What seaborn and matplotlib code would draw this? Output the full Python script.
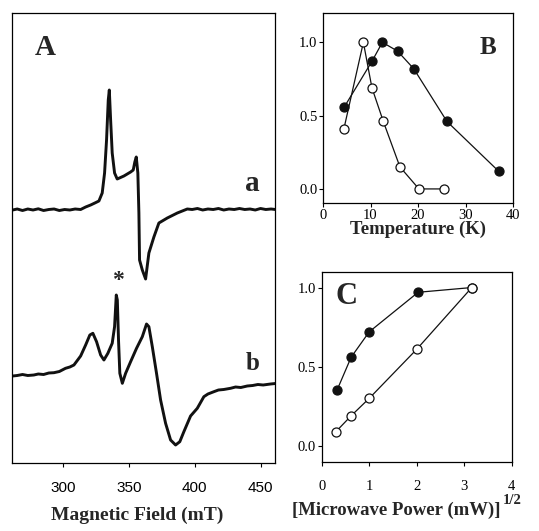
import matplotlib
matplotlib.use("Agg")
import matplotlib.pyplot as plt
import seaborn as sns
import pandas as pd

# ---------------- data ----------------
field_a = [261.5, 265, 269, 273, 277, 281, 285, 289, 293, 297, 301, 305, 309,
           313.2, 317, 320.8, 324, 327.1, 329.6, 331.4, 332.9, 334.2, 335.0, 336.0,
           337.2, 339.0, 341.0, 346.1, 351.2, 353.2, 354.4, 355.5, 356.7, 357.5,
           358.0, 360.1, 362.6, 365.1, 368.9, 372.7, 379.1, 386.7, 394.3, 398, 402,
           406, 410, 414, 418, 422, 426, 430, 434, 438, 442, 446, 450, 454, 458, 461.4]
signal_a = [0.0, 0.1, -0.05, 0.1, 0.0, 0.12, -0.05, 0.05, 0.1, -0.05, 0.05, 0.0, 0.1,
            0.05, 0.3, 0.5, 0.7, 0.9, 1.7, 3.7, 7.0, 11.0, 12.0, 9.0,
            5.7, 3.7, 3.1, 3.4, 3.8, 4.0, 4.8, 5.3, 3.7, -0.3,
            -5.0, -6.0, -6.9, -4.3, -2.7, -1.3, -0.8, -0.3, 0.1, 0.05, 0.15,
            0.0, 0.1, 0.05, 0.15, 0.0, 0.1, 0.05, 0.15, 0.05, 0.1, 0.0, 0.15, 0.05, 0.1, 0.05]

field_b = [261.5, 265, 269, 273, 277.6, 281, 285, 289, 292.9, 297,
           301.7, 305, 308.1, 313.2, 317.0, 320.2, 322.5, 325.3, 328.4, 330.9,
           333.9, 337.2, 339.0, 340.3, 341.1, 342.0, 343.0, 344.9, 347.4, 351.2,
           355.7, 360.1, 363.3, 365.1, 367.7, 370.9, 374.0, 377.8, 381.6, 385.4,
           388.6, 391.7, 396.8, 401.9, 406.9, 410, 414.5, 418, 422, 427.2,
           431, 435, 439.9, 444, 448, 452, 457.6, 461.4]
signal_b = [0.0, 0.05, 0.15, 0.05, 0.1, 0.2, 0.15, 0.3, 0.33, 0.45,
            0.77, 0.9, 1.1, 2.0, 3.1, 4.1, 4.27, 3.43, 2.1, 1.6,
            2.27, 3.27, 4.93, 8.1, 7.6, 3.6, 0.27, -0.73, 0.27, 1.43,
            2.77, 3.93, 5.2, 4.93, 2.93, 0.27, -2.4, -4.73, -6.4, -6.9,
            -6.57, -5.57, -4.0, -3.23, -2.07, -1.8, -1.57, -1.4, -1.35, -1.23,
            -1.1, -1.15, -1.0, -0.95, -0.85, -0.9, -0.8, -0.75]
offset_a = 25.3
offset_b = 8.7

temp_filled = [4.5, 10.3, 12.5, 15.7, 19.1, 26.1, 37.0]
rel_filled_T = [0.56, 0.87, 1.0, 0.94, 0.82, 0.46, 0.12]
temp_open = [4.4, 8.5, 10.3, 12.7, 16.2, 20.2, 25.5]
rel_open_T = [0.41, 1.0, 0.69, 0.46, 0.15, 0.0, 0.0]

power_filled = [0.32, 0.62, 1.0, 2.03, 3.16]
rel_filled_P = [0.35, 0.56, 0.72, 0.97, 1.0]
power_open = [0.30, 0.62, 1.0, 2.0, 3.16]
rel_open_P = [0.09, 0.19, 0.30, 0.61, 1.0]

field_ticks = [300, 350, 400, 450]
temp_ticks = [0, 10, 20, 30, 40]
power_ticks = [0, 1, 2, 3, 4]
rel_ticks = [0.0, 0.5, 1.0]

# ---------------- style ----------------
sns.set_theme(style="white")
plt.rcParams["font.family"] = ["Liberation Serif", "DejaVu Serif"]
plt.rcParams["axes.edgecolor"] = "black"
plt.rcParams["axes.linewidth"] = 0.9

W, H = 539, 531
fig = plt.figure(figsize=(W / 100, H / 100), dpi=100)


def box(l, t, r, b):
    return [l / W, 1 - b / H, (r - l) / W, (b - t) / H]


ink = "#111111"

# ---------------- panel A ----------------
axA = fig.add_axes(box(12, 13, 275, 463))
dfa = pd.DataFrame({"field": field_a, "y": [v + offset_a for v in signal_a]})
dfb = pd.DataFrame({"field": field_b, "y": [v + offset_b for v in signal_b]})
sns.lineplot(data=dfa, x="field", y="y", ax=axA, sort=False, estimator=None,
             color=ink, lw=2.1)
sns.lineplot(data=dfb, x="field", y="y", ax=axA, sort=False, estimator=None,
             color=ink, lw=2.1)
axA.set_xlim(261, 461)
axA.set_ylim(0, 45)
axA.set_xticks(field_ticks)
axA.set_xticklabels([str(t) for t in field_ticks], family="Liberation Sans", fontsize=11)
axA.set_yticks([])
axA.set_xlabel("")
axA.set_ylabel("")
axA.tick_params(axis="x", bottom=True, direction="out", length=3, width=0.8, pad=10,
                colors="black")
axA.text(0.125, 0.924, "A", transform=axA.transAxes, ha="center", va="center",
         fontsize=21, fontweight="bold")
axA.text(0.913, 0.622, "a", transform=axA.transAxes, ha="center", va="center",
         fontsize=21, fontweight="bold")
axA.text(0.913, 0.222, "b", transform=axA.transAxes, ha="center", va="center",
         fontsize=18, fontweight="bold")
axA.text(341.3, 18.2, "*", ha="center", va="center", fontsize=17, fontweight="bold")

# ---------------- panel B ----------------
axB = fig.add_axes(box(323, 13, 513, 203))
mk = dict(marker="o", markersize=6.5, markeredgewidth=0.9, markeredgecolor=ink)
sns.lineplot(x=temp_filled, y=rel_filled_T, ax=axB, sort=False, estimator=None,
             color=ink, lw=0.9, markerfacecolor=ink, **mk)
sns.lineplot(x=temp_open, y=rel_open_T, ax=axB, sort=False, estimator=None,
             color=ink, lw=0.9, markerfacecolor="white", **mk)
axB.set_xlim(0, 40)
axB.set_ylim(-0.096, 1.2)
axB.set_xticks(temp_ticks)
axB.set_yticks(rel_ticks)
axB.set_yticklabels([f"{t:.1f}" for t in rel_ticks])
axB.tick_params(axis="both", labelsize=10.5, colors="black")
axB.tick_params(axis="x", bottom=True, direction="out", length=3, width=0.8, pad=1)
axB.tick_params(axis="y", left=True, direction="out", length=3, width=0.8, pad=1)
axB.set_xlabel("")
axB.set_ylabel("")
axB.text(0.868, 0.816, "B", transform=axB.transAxes, ha="center", va="center",
         fontsize=18, fontweight="bold")

# ---------------- panel C ----------------
axC = fig.add_axes(box(321.7, 271.7, 511.7, 461.7))
sns.lineplot(x=power_filled, y=rel_filled_P, ax=axC, sort=False, estimator=None,
             color=ink, lw=0.9, markerfacecolor=ink, **mk)
sns.lineplot(x=power_open, y=rel_open_P, ax=axC, sort=False, estimator=None,
             color=ink, lw=0.9, markerfacecolor="white", **mk)
axC.set_xlim(0, 4)
axC.set_ylim(-0.1, 1.1)
axC.set_xticks(power_ticks)
axC.set_yticks(rel_ticks)
axC.set_yticklabels([f"{t:.1f}" for t in rel_ticks])
axC.tick_params(axis="both", labelsize=10.5, colors="black")
axC.tick_params(axis="x", bottom=True, direction="out", length=3, width=0.8, pad=10)
axC.tick_params(axis="y", left=True, direction="out", length=3, width=0.8, pad=1)
axC.set_xlabel("")
axC.set_ylabel("")
axC.text(0.133, 0.872, "C", transform=axC.transAxes, ha="center", va="center",
         fontsize=22, fontweight="bold")

for ax in (axA, axB, axC):
    for s in ax.spines.values():
        s.set_visible(True)
        s.set_color("black")
        s.set_linewidth(0.9)

# ---------------- axis titles ----------------
fig.text(137 / W, 1 - 515 / H, "Magnetic Field (mT)", ha="center", va="center",
         fontsize=14, fontweight="bold")
fig.text(418 / W, 1 - 229 / H, "Temperature (K)", ha="center", va="center",
         fontsize=13.5, fontweight="bold")
fig.text(500 / W, 1 - 510 / H, "[Microwave Power (mW)]", ha="right", va="center",
         fontsize=13.5, fontweight="bold")
fig.text(503 / W, 1 - 500 / H, "1/2", ha="left", va="center",
         fontsize=10.5, fontweight="bold")

fig.savefig("out.png", dpi=100, facecolor="white")
